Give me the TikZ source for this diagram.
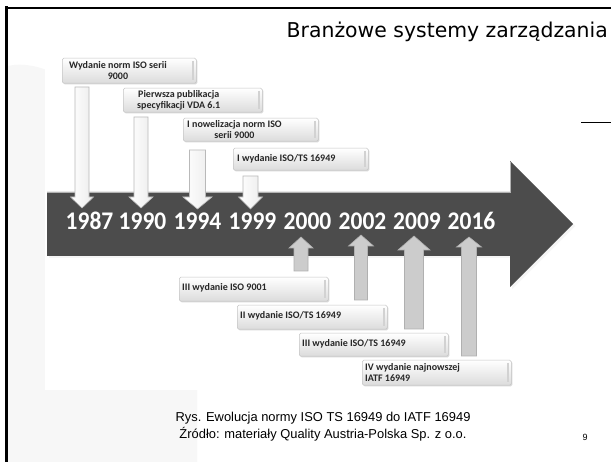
\documentclass[tikz,border=0pt]{standalone}
\usepackage{fontspec}
\setmainfont{Carlito}[Numbers=Lining]
\newfontfamily\titlefont{DejaVu Sans}
\newfontfamily\capfont{Liberation Sans}
\usetikzlibrary{shadows}

\newcommand{\blockarr}[7]{% x, start y, tip y, shaft half, head half, head base y, style
  \draw[#7] ({#1-#4},#2) -- ({#1+#4},#2) -- ({#1+#4},#6) -- ({#1+#5},#6) -- (#1,#3)
    -- ({#1-#5},#6) -- ({#1-#4},#6) -- cycle;}
\newcommand{\yr}[1]{\scalebox{1}[1.08]{#1}}

\tikzset{
  boxst/.style={draw=gray!45, line width=0.5pt, rounded corners=1.5pt,
    top color=white, bottom color=gray!28, inner sep=0pt,
    drop shadow={shadow xshift=1pt, shadow yshift=-1.2pt, fill=gray!50, opacity=0.6}},
  boxtxt/.style={font=\fontsize{10}{11.2}\selectfont\bfseries, text=black!85,
    align=center, inner sep=0pt},
  ltxt/.style={boxtxt, align=left},
  yeartxt/.style={font=\fontsize{23.5}{25}\selectfont\bfseries, text=white, inner sep=0pt, anchor=base},
  downarr/.style={draw=gray!55, line width=0.6pt, left color=white, right color=gray!15},
  uparr/.style={draw=gray!62, line width=0.6pt, fill=gray!40},
  captxt/.style={font=\capfont\fontsize{12.9}{15}\selectfont, inner sep=0pt},
  stripe/.style={gray!35, line width=1.3pt},
}

\begin{document}
\begin{tikzpicture}[x=1pt, y=-1pt]
\useasboundingbox (0,0) rectangle (611,462);
\fill[white] (0,0) rectangle (611,462);

% light background shapes
\fill[gray!6] (8,66) .. controls (25,62) and (45,68) .. (60,76) -- (197,200)
  -- (197,462) -- (8,462) -- cycle;
\fill[white] (45,50) rectangle (530,390);

% frame
\draw[black, line width=3pt] (6.5,6.5) -- (6.5,462);
\draw[black, line width=2.5pt] (5,8) -- (611,8);
\coordinate (hl1) at (581,122);
\coordinate (hl2) at (611,122);
\draw[black, line width=0.8pt] (hl1) -- (hl2);

% title
\node[font=\titlefont\fontsize{20.4}{24}\selectfont, anchor=base east, inner sep=0pt]
  (title) at (608,38) {Branżowe systemy zarządzania};

% big timeline arrow
\fill[gray!8] (49,194) -- (512,194) -- (512,163) -- (575,226) -- (512,289) -- (512,258) -- (49,258) -- cycle;
\fill[black!70] (47,192) -- (510,192) -- (510,161) -- (573,224) -- (510,287) -- (510,256) -- (47,256) -- cycle;
\draw[gray!60, line width=1pt] (47,192.5) -- (510,192.5) -- (510,162);

% upper boxes
\node[boxst, minimum width=134pt, minimum height=25pt, anchor=north west] (b1) at (62,58) {};
\node[boxst, minimum width=139pt, minimum height=24pt, anchor=north west] (b2) at (123,88) {};
\node[boxst, minimum width=135pt, minimum height=23pt, anchor=north west] (b3) at (183,118) {};
\node[boxst, minimum width=135pt, minimum height=22pt, anchor=north west] (b4) at (233,148) {};

% lower boxes
\node[boxst, minimum width=149pt, minimum height=24pt, anchor=north west] (b5) at (179,277) {};
\node[boxst, minimum width=150pt, minimum height=24pt, anchor=north west] (b6) at (237,305) {};
\node[boxst, minimum width=149pt, minimum height=23pt, anchor=north west] (b7) at (299,333) {};
\node[boxst, minimum width=149pt, minimum height=25pt, anchor=north west] (b8) at (362,360) {};

\foreach \b in {b1,b2,b3,b4,b5,b6,b7,b8}
  \draw[stripe] ([xshift=-3.5pt,yshift=-3pt]\b.north east) -- ([xshift=-3.5pt,yshift=3pt]\b.south east);

% box texts
\node[boxtxt, anchor=west] (t1) at ([xshift=7pt]b1.west) {Wydanie norm ISO serii\\9000};
\node[boxtxt, anchor=west] (t2) at ([xshift=14pt]b2.west) {Pierwsza publikacja\\specyfikacji VDA 6.1};
\node[boxtxt, anchor=west] (t3) at ([xshift=4pt]b3.west) {I nowelizacja norm ISO\\serii 9000};
\node[boxtxt, anchor=west] (t4) at ([xshift=4pt]b4.west) {I wydanie ISO/TS 16949};
\node[ltxt, anchor=west] (t5) at ([xshift=3pt,yshift=1pt]b5.west) {III wydanie ISO 9001};
\node[ltxt, anchor=west] (t6) at ([xshift=3pt,yshift=1pt]b6.west) {II wydanie ISO/TS 16949};
\node[ltxt, anchor=west] (t7) at ([xshift=3pt,yshift=1pt]b7.west) {III wydanie ISO/TS 16949};
\node[ltxt, anchor=west] (t8) at ([xshift=3pt]b8.west) {IV wydanie najnowszej\\IATF 16949};

% down arrows (white)
\blockarr{82}{87}{208}{7}{11.5}{197}{downarr}
\blockarr{141}{117}{208}{7}{12}{197}{downarr}
\blockarr{197.5}{150}{209}{8}{14.5}{197}{downarr}
\blockarr{250.5}{176}{209}{7.5}{12}{197}{downarr}

% years
\node[yeartxt] (y1987) at (89.5,230) {\yr{1987}};
\node[yeartxt] (y1990) at (142.5,230) {\yr{1990}};
\node[yeartxt] (y1994) at (197.5,230) {\yr{1994}};
\node[yeartxt] (y1999) at (252.5,230) {\yr{1999}};
\node[yeartxt] (y2000) at (307.5,230) {\yr{2000}};
\node[yeartxt] (y2002) at (362.5,230) {\yr{2002}};
\node[yeartxt] (y2009) at (417,230) {\yr{2009}};
\node[yeartxt] (y2016) at (471.5,230) {\yr{2016}};

% up arrows (gray)
\blockarr{301}{271}{237}{7}{12}{248}{uparr}
\blockarr{361}{300}{235}{6.5}{12.5}{246}{uparr}
\blockarr{414}{329}{236}{9.5}{16}{250}{uparr}
\blockarr{469}{356}{237}{7.5}{12.5}{247}{uparr}

% caption
\node[captxt] (cap1) at (323,418) {Rys. Ewolucja normy ISO TS 16949 do IATF 16949};
\node[captxt] (cap2) at (323,434) {Źródło: materiały Quality Austria-Polska Sp. z o.o.};
\node[font=\capfont\fontsize{9}{10}\selectfont, inner sep=0pt] (pg) at (585,437) {9};
\end{tikzpicture}
\end{document}
